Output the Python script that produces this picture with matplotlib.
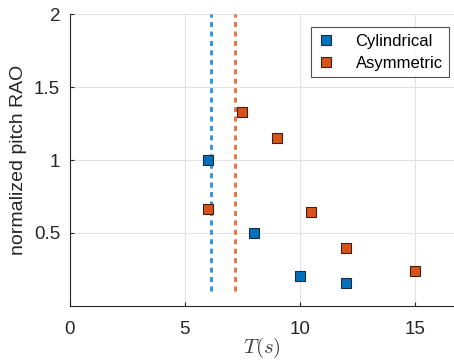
import matplotlib
matplotlib.use("Agg")
import matplotlib.pyplot as plt

# data
cyl_T = [6, 8, 10, 12]
cyl_rao = [1.0, 0.5, 0.205, 0.157]
asym_T = [6, 7.5, 9, 10.5, 12, 15]
asym_rao = [0.665, 1.33, 1.15, 0.645, 0.40, 0.24]
cyl_natural = 6.13
asym_natural = 7.17

blue = '#0072BD'
orange = '#D95319'

plt.rcParams['font.family'] = ['Liberation Sans', 'DejaVu Sans']
plt.rcParams['mathtext.fontset'] = 'cm'

fig = plt.figure(figsize=(4.54, 3.62), dpi=100)
ax = fig.add_axes([0.154, 0.155, 0.846, 0.806])

ax.plot([cyl_natural, cyl_natural], [0.1, 2], color='#2a8fdc', lw=2,
        dashes=(1.8, 1.6), zorder=2)
ax.plot([asym_natural, asym_natural], [0.1, 2], color='#e0703f', lw=2,
        dashes=(1.8, 1.6), zorder=2)

ax.plot(cyl_T, cyl_rao, 's', color=blue, mec='#1e2a3a', mew=0.8, ms=7,
        label='Cylindrical', zorder=3)
ax.plot(asym_T, asym_rao, 's', color=orange, mec='#3a2015', mew=0.8, ms=7,
        label='Asymmetric', zorder=3)

ax.set_xlim(0, 16.7)
ax.set_ylim(0, 2)
ax.set_xticks([0, 5, 10, 15])
ax.set_yticks([0.5, 1, 1.5, 2])
ax.set_yticklabels(['0.5', '1', '1.5', '2'])
ax.grid(True, color='#e3e3e3', lw=0.8)
ax.set_axisbelow(True)
for s in ['top', 'right']:
    ax.spines[s].set_visible(False)
for s in ['left', 'bottom']:
    ax.spines[s].set_color('#262626')
    ax.spines[s].set_linewidth(0.8)
ax.tick_params(direction='in', length=3, labelsize=13.5, colors='#262626')
ax.tick_params(axis='x', pad=11)
ax.tick_params(axis='y', pad=7)

ax.set_xlabel(r'$T(s)$', fontsize=15, color='#404040', labelpad=-2)
ax.set_ylabel('normalized pitch RAO', fontsize=14, color='#262626', labelpad=5)

leg = ax.legend(loc='upper right', fontsize=12, frameon=True, fancybox=False,
                edgecolor='#262626', handlelength=1.0, handletextpad=1.3,
                borderpad=0.4, labelspacing=0.4, borderaxespad=0,
                bbox_to_anchor=(0.988, 0.955))
leg.get_frame().set_linewidth(0.8)

fig.savefig('out.png', dpi=100)
